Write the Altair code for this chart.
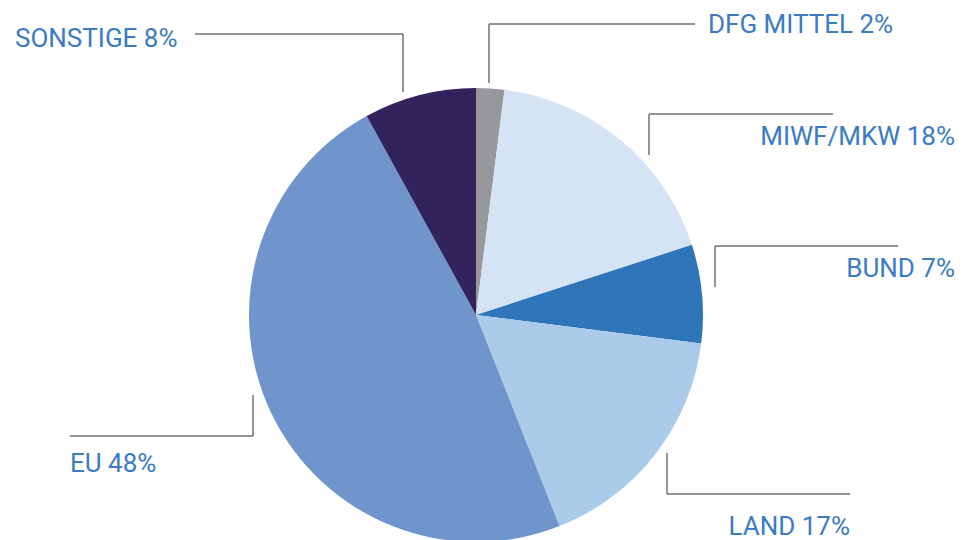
import altair as alt
import pandas as pd

# ---- data ----
categories = ["DFG MITTEL", "MIWF/MKW", "BUND", "LAND", "EU", "SONSTIGE"]
shares = [2, 18, 7, 17, 48, 8]
label_texts = ["DFG MITTEL 2%", "MIWF/MKW 18%", "BUND 7%", "LAND 17%", "EU 48%", "SONSTIGE 8%"]

# ---- styling / layout ----
slice_colors = ["#96989c", "#d4e4f4", "#2e75b9", "#abcbeb", "#7094cc", "#33235d"]
text_color = "#3a7bc2"
line_color = "#707070"
W, H = 957, 532
CX, CY, R = 468, 307, 227

label_x = [700, 947, 947, 842, 62, 7]
label_y = [25, 137, 269, 527, 464, 39]
label_align = ["left", "right", "right", "right", "left", "left"]

# leader lines: (corner_x, corner_y, horizontal end x, vertical end y)
leader_cx = [481, 641, 707, 659, 245, 395]
leader_cy = [16, 106, 238, 486, 428, 26]
leader_hx = [687, 825, 890, 842, 62, 187]
leader_vy = [75, 147, 279, 445, 387, 84]

pie_df = pd.DataFrame({"cat": categories, "share": shares, "order": list(range(len(shares)))})

seg_rows = []
for cx, cy, hx, vy in zip(leader_cx, leader_cy, leader_hx, leader_vy):
    seg_rows.append({"x": cx, "x2": hx, "y": cy, "y2": cy})
    seg_rows.append({"x": cx, "x2": cx, "y": cy, "y2": vy})
seg_df = pd.DataFrame(seg_rows)

lab_df = pd.DataFrame({"t": label_texts, "x": label_x, "y": label_y, "a": label_align})

xs = alt.Scale(domain=[0, W], range=[0, W], nice=False, zero=False)
ys = alt.Scale(domain=[0, H], range=[0, H], nice=False, zero=False)

pie = alt.Chart(pie_df).mark_arc(outerRadius=R, strokeWidth=0).encode(
    theta=alt.Theta("share:Q", stack=True),
    order=alt.Order("order:Q"),
    color=alt.Color("cat:N", scale=alt.Scale(domain=categories, range=slice_colors), legend=None),
    x=alt.value(CX),
    y=alt.value(CY),
)

lines = alt.Chart(seg_df).mark_rule(color=line_color, strokeWidth=1.5).encode(
    x=alt.X("x:Q", scale=xs, axis=None),
    x2="x2:Q",
    y=alt.Y("y:Q", scale=ys, axis=None),
    y2="y2:Q",
)

def text_layer(align):
    return alt.Chart(lab_df).transform_filter(alt.datum.a == align).mark_text(
        align=align, baseline="alphabetic", font="Roboto", fontSize=26, color=text_color
    ).encode(
        x=alt.X("x:Q", scale=xs, axis=None),
        y=alt.Y("y:Q", scale=ys, axis=None),
        text="t:N",
    )

chart = alt.layer(pie, lines, text_layer("left"), text_layer("right")).properties(
    width=W, height=H, padding=0, autosize=alt.AutoSizeParams(type="none")
).configure_view(stroke=None)

chart.save("out.html", embed_options={"renderer": "svg", "actions": False})
